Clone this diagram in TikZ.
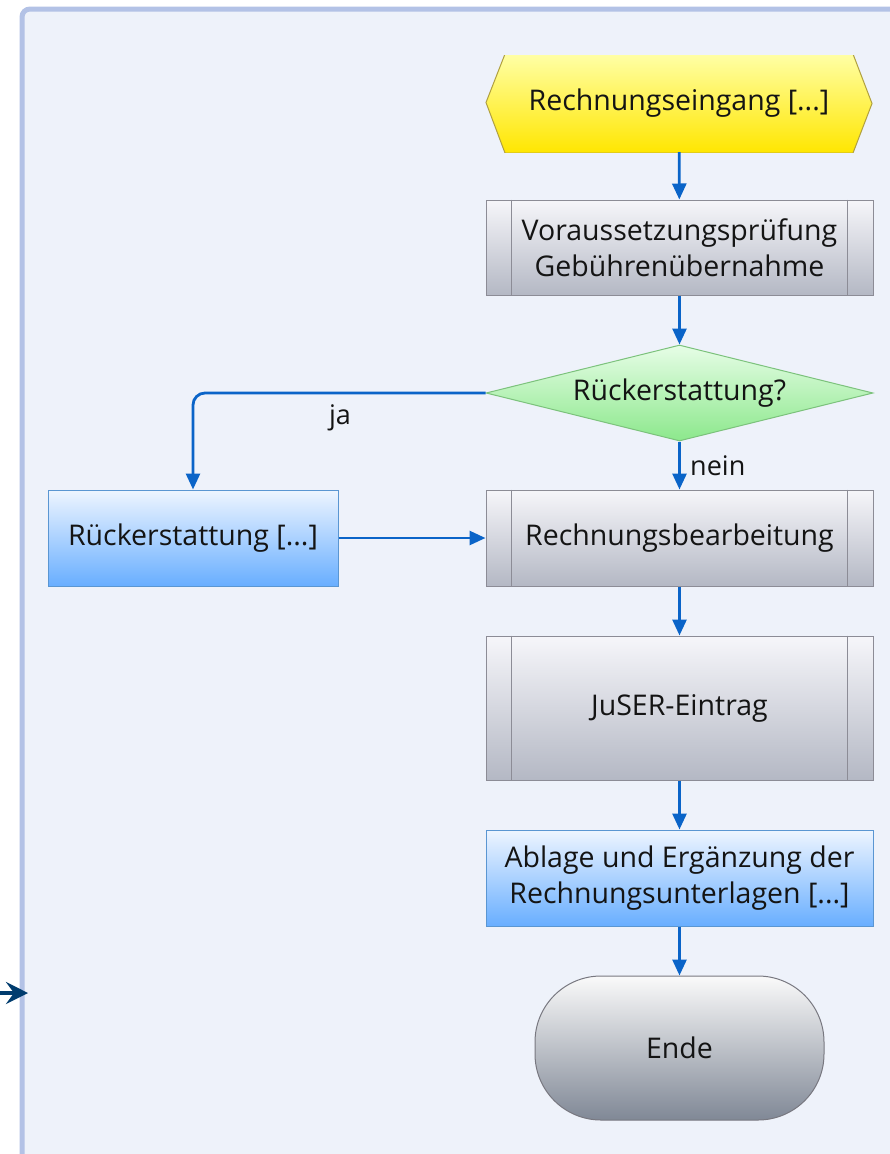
\documentclass[tikz,border=0pt]{standalone}
\usepackage{fontspec}
\setmainfont{Open Sans}
\usetikzlibrary{shapes.geometric,arrows.meta}
\definecolor{panelfill}{HTML}{EEF2FA}
\definecolor{panelline}{HTML}{B3C2E6}
\definecolor{flowblue}{HTML}{0A64C8}
\definecolor{navy}{HTML}{003C6E}
\definecolor{grayline}{HTML}{8C8C96}
\definecolor{txt}{HTML}{141414}
\tikzset{
  lbl/.style={font=\fontsize{28.5}{36}\selectfont, text=txt, align=center},
  hexbox/.style={lbl, rectangle, minimum width=388, minimum height=97, inner sep=0,
    path picture={\shade[top color=yellow!35!white, bottom color={rgb,255:red,255;green,230;blue,0}, draw={rgb,255:red,176;green,160;blue,64}, line width=1]
      ([shift={(1,-1)}]path picture bounding box.west) --
      ([shift={(20,-1)}]path picture bounding box.north west) --
      ([shift={(-20,-1)}]path picture bounding box.north east) --
      ([shift={(-1,0)}]path picture bounding box.east) --
      ([shift={(-20,1)}]path picture bounding box.south east) --
      ([shift={(20,1)}]path picture bounding box.south west) -- cycle;}},
  predef/.style={lbl, rectangle, minimum width=387, draw=grayline, line width=1,
    top color={rgb,255:red,246;green,246;blue,250}, bottom color={rgb,255:red,180;green,184;blue,196}},
  bluebox/.style={lbl, rectangle, draw={rgb,255:red,90;green,150;blue,210}, line width=1,
    top color={rgb,255:red,238;green,245;blue,255}, bottom color={rgb,255:red,104;green,174;blue,255}},
  decision/.style={lbl, diamond, minimum width=387, minimum height=96, inner sep=0, aspect=4,
    draw={rgb,255:red,124;green,194;blue,124}, line width=1,
    top color={rgb,255:red,230;green,253;blue,230}, bottom color={rgb,255:red,140;green,232;blue,140}},
  terminal/.style={lbl, rectangle, rounded corners=66, minimum width=289, minimum height=144,
    draw={rgb,255:red,120;green,120;blue,128}, line width=1,
    top color={rgb,255:red,250;green,250;blue,250}, bottom color={rgb,255:red,128;green,136;blue,150}},
  flow/.style={draw=flowblue, line width=2.8, -{Triangle[length=16,width=14]}},
  edgelbl/.style={font=\fontsize{27}{30}\selectfont, text=txt, inner sep=0}
}
\newcommand{\predeflines}[1]{%
  \draw[grayline, line width=1] ([xshift=26]#1.north west) -- ([xshift=26]#1.south west);
  \draw[grayline, line width=1] ([xshift=-26]#1.north east) -- ([xshift=-26]#1.south east);}
\begin{document}
\begin{tikzpicture}[x=1pt,y=-1pt]
\useasboundingbox (0,0) rectangle (889,1154);
\fill[white] (0,0) rectangle (889,1154);
\draw[panelline, fill=panelfill, line width=5, rounded corners=8] (22,9) rectangle (910,1175);

\node[hexbox] (start) at (679,103.5) {Rechnungseingang [...]};
\node[predef, minimum height=95] (pruef) at (679.5,247.5) {Voraussetzungsprüfung\\Gebührenübernahme};
\predeflines{pruef}
\node[decision] (dec) at (679.5,393) {Rückerstattung?};
\node[bluebox, minimum width=290, minimum height=96] (rueck) at (193,538) {Rückerstattung [...]};
\node[predef, minimum height=96] (bearb) at (679.5,538) {Rechnungsbearbeitung};
\predeflines{bearb}
\node[predef, minimum height=144] (juser) at (679.5,708) {JuSER-Eintrag};
\predeflines{juser}
\node[bluebox, minimum width=387, minimum height=96] (ablage) at (679.5,878) {Ablage und Ergänzung der\\Rechnungsunterlagen [...]};
\node[terminal] (ende) at (679.5,1048) {Ende};

\draw[flow] (start) -- (pruef);
\draw[flow] (pruef) -- (dec);
\draw[flow, rounded corners=12] (dec.west) -| (rueck.north);
\draw[flow] (dec.south) -- (bearb.north);
\draw[flow] (rueck) -- (bearb);
\draw[flow] (bearb) -- (juser);
\draw[flow] (juser) -- (ablage);
\draw[flow] (ablage) -- (ende);

\node[edgelbl] (ja) at (340,418) {ja};
\node[edgelbl, anchor=west] (nein) at (690,466) {nein};

\coordinate (inS) at (0,993);
\coordinate (inE) at (28,993);
\draw[navy, line width=4.5, -{Stealth[length=22,width=22,inset=8]}] (inS) -- (inE);
\end{tikzpicture}
\end{document}
